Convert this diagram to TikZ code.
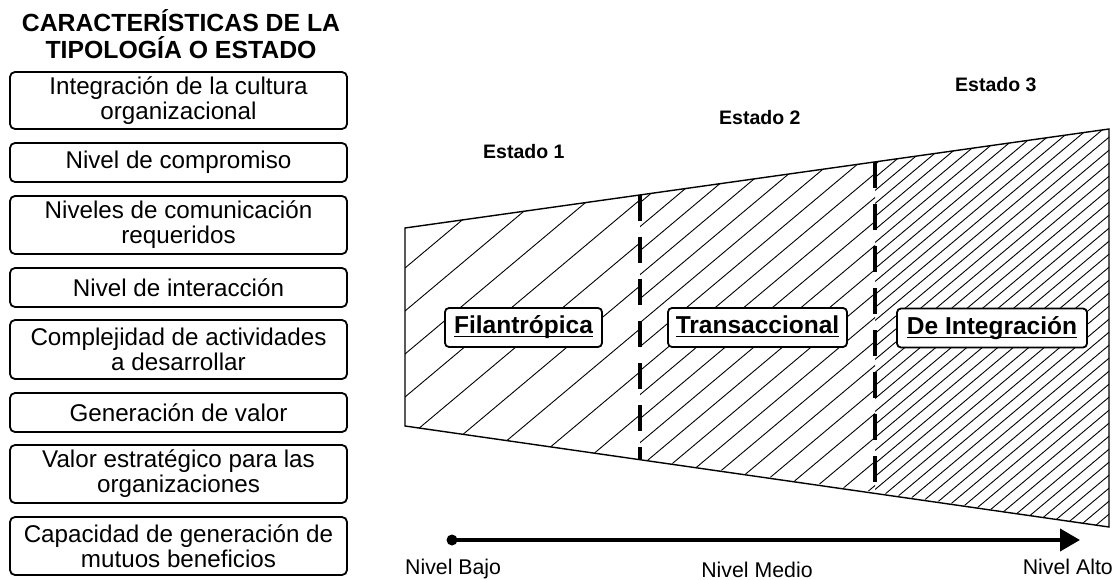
\documentclass[tikz,border=0pt]{standalone}
\usepackage{fontspec}
\setmainfont{Liberation Sans}
\usetikzlibrary{arrows.meta}
\newcommand{\myuline}[1]{\setbox0\hbox{#1}\rlap{\rule[-3.5pt]{\wd0}{1.3pt}}\box0}
\begin{document}
\begin{tikzpicture}[x=1pt,y=-1pt,
  charbox/.style={draw, line width=1.8pt, rounded corners=5pt, minimum width=337pt, align=center, inner sep=0pt, font=\fontsize{24.2}{25}\selectfont},
  typebox/.style={draw, line width=1.8pt, rounded corners=4pt, fill=white, inner sep=0pt, minimum height=39pt, text height=18pt, text depth=5pt, font=\bfseries\fontsize{24.5}{26}\selectfont},
  estado/.style={anchor=base west, inner sep=0pt, font=\bfseries\fontsize{19.5}{22}\selectfont},
  nivel/.style={inner sep=0pt, font=\fontsize{21.3}{24}\selectfont},
  hatch/.style={line width=0.9pt},
  divider/.style={line width=4pt, dash pattern=on 26pt off 16pt}]
\useasboundingbox (0,0) rectangle (1117,580);

% title
\node[align=center, inner sep=0pt, anchor=base, font=\bfseries\fontsize{24.8}{27}\selectfont] (title) at (181,59) {CARACTERÍSTICAS DE LA\\TIPOLOGÍA O ESTADO};

% characteristic boxes
\node[charbox, minimum height=57pt] (c1) at (178.5,100.5) {Integración de la cultura\\organizacional};
\node[charbox, minimum height=39pt] (c2) at (178.5,162.5) {Nivel de compromiso};
\node[charbox, minimum height=58pt] (c3) at (178.5,225) {Niveles de comunicación\\requeridos};
\node[charbox, minimum height=39pt] (c4) at (178.5,287.5) {Nivel de interacción};
\node[charbox, minimum height=59pt] (c5) at (178.5,349.5) {Complejidad de actividades\\a desarrollar};
\node[charbox, minimum height=39pt] (c6) at (178.5,412.5) {Generación de valor};
\node[charbox, minimum height=58pt] (c7) at (178.5,474) {Valor estratégico para las\\organizaciones};
\node[charbox, minimum height=58pt] (c8) at (178.5,546) {Capacidad de generación de\\mutuos beneficios};

% trapezoid corners and divider ends
\coordinate (tl) at (405,228);
\coordinate (tr) at (1109,129);
\coordinate (br) at (1109,527);
\coordinate (bl) at (405,426);
\coordinate (d1t) at (640,195);
\coordinate (d1b) at (640,459);
\coordinate (d2t) at (875,162);
\coordinate (d2b) at (875,492);

% hatching region 1
\begin{scope}
\clip (tl) -- (d1t) -- (d1b) -- (bl) -- cycle;
\foreach \c in {186.2,229.2,...,700} \draw[hatch] (400,\c) -- ++(720,-604);
\end{scope}
% hatching region 2
\begin{scope}
\clip (d1t) -- (d2t) -- (d2b) -- (d1b) -- cycle;
\foreach \c in {380,404,...,910} \draw[hatch] (400,\c) -- ++(720,-604);
\end{scope}
% hatching region 3
\begin{scope}
\clip (d2t) -- (tr) -- (br) -- (d2b) -- cycle;
\foreach \c in {550,563,...,1135} \draw[hatch] (400,\c) -- ++(720,-604);
\end{scope}

\draw[line width=1.4pt, line join=miter] (tl) -- (tr) -- (br) -- (bl) -- cycle;
\draw[divider] (d1t) -- (d1b);
\draw[divider] (d2t) -- (d2b);

% type labels
\node[typebox, minimum width=157pt] (t1) at (523.5,327.5) {\myuline{Filantrópica}};
\node[typebox, minimum width=179pt] (t2) at (757.5,327.5) {\myuline{Transaccional}};
\node[typebox, minimum width=190pt] (t3) at (992,328) {\myuline{De Integración}};

% estado labels
\node[estado] (e1) at (483,159) {Estado 1};
\node[estado] (e2) at (719,125) {Estado 2};
\node[estado] (e3) at (955,92) {Estado 3};

% axis
\node[circle, fill=black, inner sep=0pt, minimum size=11pt] (dot) at (452,540) {};
\coordinate (axend) at (1080,540);
\draw[line width=4pt, -{Triangle[length=20pt,width=22pt]}] (dot.center) -- (axend);
\node[nivel, anchor=base west] (nb) at (405,574) {Nivel Bajo};
\node[nivel, anchor=base] (nm) at (757,577) {Nivel Medio};
\node[nivel, anchor=base east] (na) at (1113,574) {Nivel Alto};
\end{tikzpicture}
\end{document}
